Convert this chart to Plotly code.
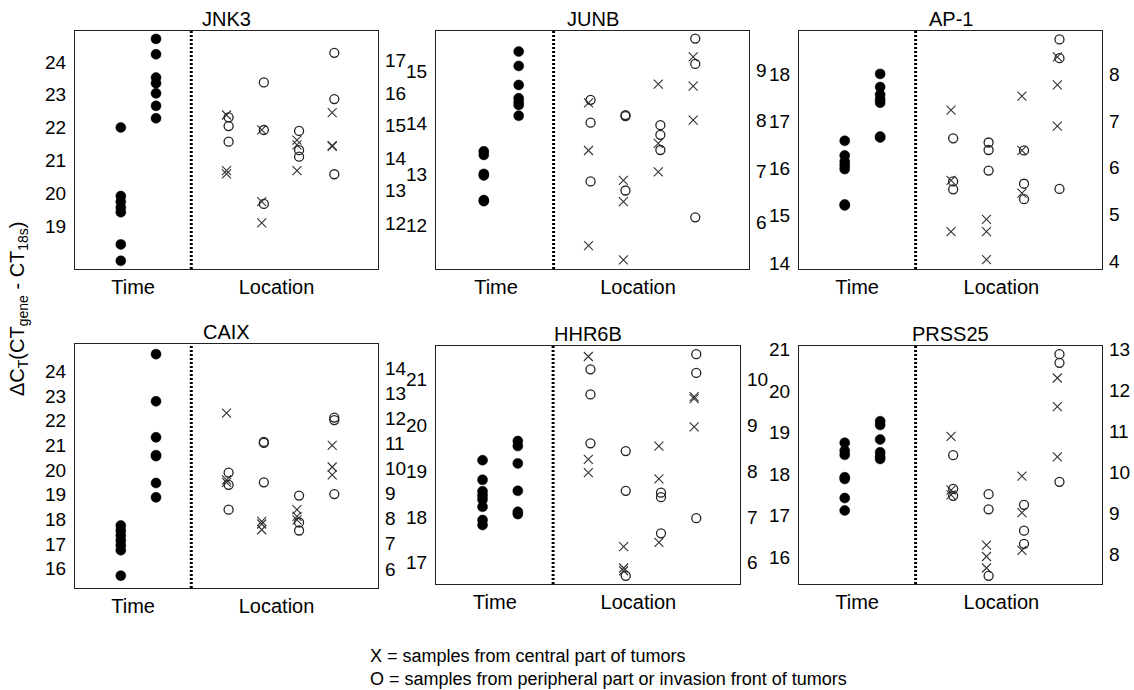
import plotly.graph_objects as go

# ---------------- data ----------------
GENES = ["JNK3", "JUNB", "AP-1", "CAIX", "HHR6B", "PRSS25"]
X_TICK_TEXT = ["Time", "Location"]

# Time (left axis): two time groups, filled circles
JNK3_TIME_1 = [22.0, 19.91, 19.74, 19.56, 19.42, 18.44, 17.94]
JNK3_TIME_2 = [24.70, 24.23, 23.52, 23.35, 23.04, 22.66, 22.28]
JUNB_TIME_1 = [13.45, 13.38, 13.01, 12.98, 12.50, 12.48]
JUNB_TIME_2 = [15.39, 15.11, 14.74, 14.48, 14.41, 14.35, 14.14]
AP1_TIME_1 = [16.59, 16.28, 16.15, 16.07, 15.99, 15.24, 15.22]
AP1_TIME_2 = [18.01, 17.73, 17.57, 17.47, 17.40, 16.68, 16.66]
CAIX_TIME_1 = [17.75, 17.55, 17.35, 17.15, 16.95, 16.75, 15.72]
CAIX_TIME_2 = [24.69, 22.78, 21.32, 20.60, 20.56, 19.47, 18.89]
HHR6B_TIME_1 = [19.24, 18.81, 18.56, 18.47, 18.38, 18.22, 17.93, 17.82]
HHR6B_TIME_2 = [19.66, 19.55, 19.17, 18.57, 18.11, 18.06]
PRSS25_TIME_1 = [18.75, 18.56, 18.46, 17.92, 17.88, 17.42, 17.12]
PRSS25_TIME_2 = [19.27, 19.18, 18.83, 18.52, 18.42, 18.36]

# Location (right axis): four tumours, X = central, O = peripheral
JNK3_X = [[15.32, 13.61, 13.51], [14.86, 12.66, 12.01], [14.55, 14.40, 13.61], [15.39, 14.38, 14.36]]
JNK3_O = [[15.25, 14.98, 14.50], [16.32, 14.86, 12.59], [14.83, 14.24, 14.04], [17.23, 15.81, 13.50]]
JUNB_X = [[8.35, 7.41, 5.53], [6.82, 6.40, 5.25], [8.72, 7.55, 6.99], [9.26, 8.68, 8.01]]
JUNB_O = [[8.41, 7.96, 6.80], [8.11, 8.09, 6.62], [7.91, 7.72, 7.42], [9.62, 9.12, 6.09]]
AP1_X = [[7.23, 5.73, 4.64], [4.90, 4.64, 4.04], [7.53, 6.37, 5.46], [8.37, 7.77, 6.89]]
AP1_O = [[6.63, 5.71, 5.54], [6.54, 6.38, 5.94], [6.37, 5.66, 5.33], [8.74, 8.34, 5.55]]
CAIX_X = [[12.21, 9.55, 9.45], [7.89, 7.79, 7.56], [8.36, 8.09, 7.95], [10.92, 10.06, 9.75]]
CAIX_O = [[9.84, 9.35, 8.36], [11.06, 11.02, 9.45], [8.92, 7.85, 7.53], [12.03, 11.93, 8.98]]
HHR6B_X = [[10.51, 8.26, 7.97], [6.35, 5.88, 5.82], [8.55, 7.83, 6.44], [9.63, 9.59, 8.97]]
HHR6B_O = [[10.23, 9.68, 8.61], [8.44, 7.57, 5.71], [7.53, 7.43, 6.64], [10.56, 10.15, 6.97]]
PRSS25_X = [[10.88, 9.57, 9.45], [8.23, 7.95, 7.67], [9.91, 9.02, 8.10], [12.30, 11.60, 10.38]]
PRSS25_O = [[10.42, 9.60, 9.43], [9.47, 9.10, 7.48], [9.21, 8.58, 8.26], [12.88, 12.67, 9.77]]

# tick labels
LEFT_TICKS = [list(range(19, 25)), list(range(12, 16)), list(range(14, 19)),
              list(range(16, 25)), list(range(17, 22)), list(range(16, 22))]
RIGHT_TICKS = [list(range(12, 18)), list(range(6, 10)), list(range(4, 9)),
               list(range(6, 15)), list(range(6, 11)), list(range(8, 14))]

TIME_1 = [JNK3_TIME_1, JUNB_TIME_1, AP1_TIME_1, CAIX_TIME_1, HHR6B_TIME_1, PRSS25_TIME_1]
TIME_2 = [JNK3_TIME_2, JUNB_TIME_2, AP1_TIME_2, CAIX_TIME_2, HHR6B_TIME_2, PRSS25_TIME_2]
LOC_X = [JNK3_X, JUNB_X, AP1_X, CAIX_X, HHR6B_X, PRSS25_X]
LOC_O = [JNK3_O, JUNB_O, AP1_O, CAIX_O, HHR6B_O, PRSS25_O]

# ---------------- layout geometry ----------------
W, H = 1134, 690
FRAMES = [(75, 378, 31, 269), (436, 749, 31, 269), (799, 1102, 31, 269),
          (75, 378, 344, 588), (436, 740, 346, 584), (799, 1102, 346, 584)]
LEFT_RANGE = [(17.69, 24.94), (11.16, 15.79), (13.87, 18.92),
              (15.22, 25.10), (16.53, 21.74), (15.35, 21.08)]
RIGHT_RANGE = [(10.59, 17.90), (5.07, 9.77), (3.84, 8.92),
               (5.24, 14.96), (5.53, 10.74), (7.28, 13.08)]
X_RANGE = [(-0.30, 8.30), (-0.37, 8.60), (-0.29, 8.26),
           (-0.30, 8.30), (-0.32, 8.30), (-0.29, 8.26)]
X_TICK_POS = [1.35, 5.42]
DIVIDER_POS = 3
TIME_POS = [1, 2]
LOC_POS = [4, 5, 6, 7]
O_SHIFT = 0.06

FONT = "Liberation Sans, Arial, sans-serif"
FS_TICK = 19
FS_LABEL = 20
LINE_COL = "#222222"

fig = go.Figure()
layout = dict(width=W, height=H, margin=dict(l=0, r=0, t=0, b=0),
              template="none", paper_bgcolor="white", plot_bgcolor="white",
              showlegend=False, font=dict(family=FONT, size=FS_TICK, color="black"))
shapes, annotations = [], []

for i, gene in enumerate(GENES):
    xi, yl, yr = i + 1, 2 * i + 1, 2 * i + 2
    xname = "x" if xi == 1 else f"x{xi}"
    ylname = "y" if yl == 1 else f"y{yl}"
    yrname = f"y{yr}"
    x0, x1, y0, y1 = FRAMES[i]
    xdom = [x0 / W, x1 / W]
    ydom = [1 - y1 / H, 1 - y0 / H]

    layout[f"xaxis{xi if xi > 1 else ''}"] = dict(
        domain=xdom, anchor=ylname, range=list(X_RANGE[i]),
        tickmode="array", tickvals=X_TICK_POS, ticktext=X_TICK_TEXT,
        ticks="", showline=True, mirror=True, linecolor=LINE_COL, linewidth=1.3,
        showgrid=False, zeroline=False, tickfont=dict(size=FS_LABEL))
    layout[f"yaxis{yl if yl > 1 else ''}"] = dict(
        domain=ydom, anchor=xname, range=list(LEFT_RANGE[i]), side="left",
        tickmode="array", tickvals=LEFT_TICKS[i],
        ticks="outside", ticklen=4, tickcolor="rgba(0,0,0,0)",
        showline=True, linecolor=LINE_COL, linewidth=1.3,
        showgrid=False, zeroline=False, tickfont=dict(size=FS_TICK))
    layout[f"yaxis{yr}"] = dict(
        domain=ydom, anchor=xname, overlaying=ylname, range=list(RIGHT_RANGE[i]),
        side="right", tickmode="array", tickvals=RIGHT_TICKS[i],
        ticks="outside", ticklen=2, tickcolor="rgba(0,0,0,0)",
        showline=True, linecolor=LINE_COL, linewidth=1.3,
        showgrid=False, zeroline=False, tickfont=dict(size=FS_TICK))

    # time groups (left axis)
    for pos, vals in zip(TIME_POS, [TIME_1[i], TIME_2[i]]):
        fig.add_trace(go.Scatter(
            x=[pos] * len(vals), y=vals, mode="markers", xaxis=xname, yaxis=ylname,
            marker=dict(symbol="circle", size=10, color="black",
                        line=dict(width=0.5, color="black"))))

    # location groups (right axis)
    for pos, xs, os_ in zip(LOC_POS, LOC_X[i], LOC_O[i]):
        fig.add_trace(go.Scatter(
            x=[pos] * len(xs), y=xs, mode="markers", xaxis=xname, yaxis=yrname,
            marker=dict(symbol="x-thin-open", size=9, color="#333333",
                        line=dict(width=1.1, color="#333333"))))
        fig.add_trace(go.Scatter(
            x=[pos + O_SHIFT] * len(os_), y=os_, mode="markers", xaxis=xname, yaxis=yrname,
            marker=dict(symbol="circle-open", size=9, color="#222222",
                        line=dict(width=1.3, color="#222222"))))

    # dotted divider between Time and Location
    shapes.append(dict(type="line", xref=xname, x0=DIVIDER_POS, x1=DIVIDER_POS,
                       yref=f"{ylname} domain", y0=0, y1=1,
                       line=dict(color="black", width=3, dash="2px,2px")))

    # panel title
    annotations.append(dict(text=gene, xref="paper", yref="paper",
                            x=(x0 + x1) / 2 / W, y=1 - (y0 - 12) / H,
                            xanchor="center", yanchor="middle", showarrow=False,
                            font=dict(size=FS_LABEL, family=FONT, color="black")))

# shared y-axis title
annotations.append(dict(text="ΔC<sub>T</sub>(CT<sub>gene</sub> - CT<sub>18s</sub>)",
                        xref="paper", yref="paper", x=18 / W, y=1 - 309 / H,
                        xanchor="center", yanchor="middle", textangle=-90,
                        showarrow=False, font=dict(size=20, family=FONT, color="black")))

# key
annotations.append(dict(text="X = samples from central part of tumors<br>"
                             "O = samples from peripheral part or invasion front of tumors",
                        xref="paper", yref="paper", x=368 / W, y=1 - 667 / H,
                        xanchor="left", yanchor="middle", align="left",
                        showarrow=False, font=dict(size=18, family=FONT, color="black")))

layout["shapes"] = shapes
layout["annotations"] = annotations
fig.update_layout(**layout)
fig.write_html("out.html")
